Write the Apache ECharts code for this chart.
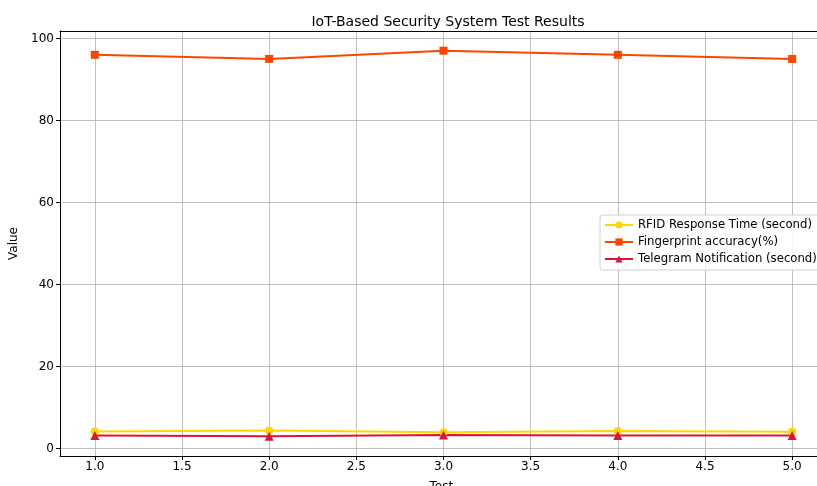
<!DOCTYPE html>
<html><head><meta charset="utf-8">
<script src="https://cdn.jsdelivr.net/npm/echarts@6/dist/echarts.min.js"></script>
<style>html,body{margin:0;padding:0;background:#fff}#c{width:817px;height:486px}</style>
</head><body><div id="c"></div>
<script>
const tests = [1, 2, 3, 4, 5];
const rfid = [4.2, 4.4, 4.0, 4.3, 4.1];
const fingerprint = [96, 95, 97, 96, 95];
const telegram = [3.2, 3.0, 3.3, 3.2, 3.2];
const xTicks = [1.0, 1.5, 2.0, 2.5, 3.0, 3.5, 4.0, 4.5, 5.0];
const yTicks = [0, 20, 40, 60, 80, 100];

const font = 'DejaVu Sans';
const chart = echarts.init(document.getElementById('c'), null, {renderer: 'canvas'});
function pairs(v){ return tests.map((t,i)=>[t, v[i]]); }
chart.setOption({
  animation: false,
  backgroundColor: '#fff',
  title: {text: 'IoT-Based Security System Test Results', left: 443, textAlign: 'center', top: 10,
    textStyle: {fontFamily: font, fontSize: 14, fontWeight: 'normal', color: '#000'}},
  grid: {left: 60, top: 31, right: -10, bottom: 30, show: false,
    containLabel: false, outerBoundsMode: 'none'},
  xAxis: [{type: 'value', min: 0.8, max: 5.2, position: 'bottom',
    name: 'Test-', nameLocation: 'middle', nameGap: 25,
    nameTextStyle: {fontFamily: font, fontSize: 12, color: '#000'},
    axisLine: {show: true, onZero: false, lineStyle: {color: '#000', width: 1}},
    axisTick: {show: true, length: 4, lineStyle: {color: '#000'}, customValues: xTicks},
    axisLabel: {fontFamily: font, fontSize: 12, color: '#000', margin: 5, customValues: xTicks, formatter: v => Number(v).toFixed(1)},
    splitLine: {show: true, lineStyle: {color: '#b0b0b0', width: 0.8}}},
    {type: 'value', min: 0.8, max: 5.2, position: 'top',
    axisLine: {show: true, onZero: false, lineStyle: {color: '#000', width: 1}},
    axisTick: {show: false}, axisLabel: {show: false}, splitLine: {show: false}}],
  yAxis: {type: 'value', min: -1.8, max: 101.8,
    name: 'Value', nameLocation: 'middle', nameGap: 30, nameRotate: 90,
    nameTextStyle: {fontFamily: font, fontSize: 12, color: '#000'},
    axisLine: {show: true, onZero: false, lineStyle: {color: '#000', width: 1}},
    axisTick: {show: true, length: 4, lineStyle: {color: '#000'}, customValues: yTicks},
    axisLabel: {fontFamily: font, fontSize: 12, color: '#000', margin: 6, customValues: yTicks},
    splitLine: {show: true, lineStyle: {color: '#b0b0b0', width: 0.8}}},
  legend: {orient: 'vertical', left: 600, top: 215, padding: [4, 6, 5, 4], itemGap: 5,
    itemWidth: 28, itemHeight: 9,
    backgroundColor: 'rgba(255,255,255,0.85)', borderColor: '#d0d0d0', borderWidth: 1, borderRadius: 3,
    textStyle: {fontFamily: font, fontSize: 11.7, color: '#000'},
    data: ['RFID Response Time (second)', 'Fingerprint accuracy(%)', 'Telegram Notification (second)']},
  series: [
    {name: 'RFID Response Time (second)', type: 'line', data: pairs(rfid), color: '#FFD700',
      symbol: 'circle', symbolSize: 8, lineStyle: {width: 2}, itemStyle: {color: '#FFD700'}},
    {name: 'Fingerprint accuracy(%)', type: 'line', data: pairs(fingerprint), color: '#FF4500',
      symbol: 'rect', symbolSize: 8, lineStyle: {width: 2}, itemStyle: {color: '#FF4500'}},
    {name: 'Telegram Notification (second)', type: 'line', data: pairs(telegram), color: '#DC143C',
      symbol: 'triangle', symbolSize: 9, lineStyle: {width: 2}, itemStyle: {color: '#DC143C'}}
  ]
});
</script></body></html>
